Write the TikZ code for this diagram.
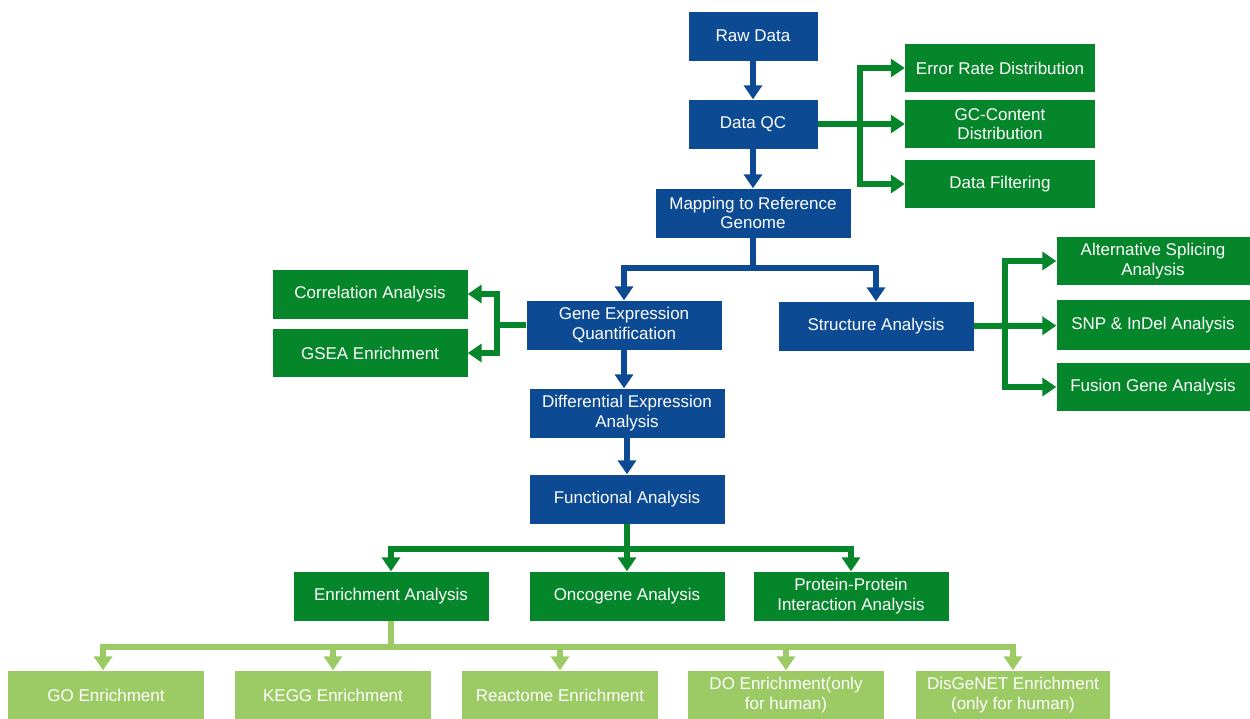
\documentclass[tikz,border=0pt]{standalone}
\usepackage{fontspec}
\setmainfont{Liberation Sans}
\usetikzlibrary{positioning, arrows.meta}
\definecolor{stepblue}{HTML}{0D4A94}
\definecolor{stepgreen}{HTML}{06862A}
\definecolor{lightgreen}{HTML}{9CCB66}
\tikzset{>={Triangle[width=18pt,length=14pt]}, % big solid heads
bluebox/.style={fill=stepblue, text=white, minimum width=195pt, minimum height=49pt, align=center, font=\fontsize{17}{19.5}\selectfont, inner sep=0pt},
greenbox/.style={bluebox, fill=stepgreen},
lightbox/.style={greenbox, fill=lightgreen, minimum width=196pt},
bluearrow/.style={->, draw=stepblue, line width=6pt},
greenarrow/.style={->, draw=stepgreen, line width=6pt},
lightarrow/.style={->, draw=lightgreen, line width=6pt},
}
\begin{document}
\begin{tikzpicture}[x=1pt, y=-1pt]
  \useasboundingbox (0,0) rectangle (1250,718);

  % main column
  \node[bluebox, minimum width=129pt] (raw) at (753,36) {Raw Data};
  \node[bluebox, minimum width=129pt, below of=raw, node distance=88pt] (qc) {Data QC};
  \node[bluebox, below of=qc, node distance=89pt] (map) {Mapping to Reference\\Genome};
  \node[bluebox] (gene) at (624,325) {Gene Expression\\Quantification};
  \node[bluebox] (struct) at (876,326) {Structure Analysis};
  \node[bluebox] (diff) at (627,413) {Differential Expression\\Analysis};
  \node[bluebox, below of=diff, node distance=86pt] (func) {Functional Analysis};

  % QC outputs
  \node[greenbox, minimum width=190pt, minimum height=48pt] (err) at (1000,68) {Error Rate Distribution};
  \node[greenbox, minimum width=190pt, minimum height=48pt] (gc) at (1000,124) {GC-Content\\Distribution};
  \node[greenbox, minimum width=190pt, minimum height=48pt] (filt) at (1000,184) {Data Filtering};

  % expression outputs
  \node[greenbox] (corr) at (370,294) {Correlation Analysis};
  \node[greenbox, minimum height=48pt] (gsea) at (370,353) {GSEA Enrichment};

  % structure outputs
  \node[greenbox, minimum width=193pt, minimum height=48pt] (alt) at (1153,261) {Alternative Splicing\\Analysis};
  \node[greenbox, minimum width=193pt, minimum height=50pt] (snp) at (1153,325) {SNP \& InDel Analysis};
  \node[greenbox, minimum width=193pt, minimum height=48pt] (fus) at (1153,387) {Fusion Gene Analysis};

  % functional outputs
  \node[greenbox] (enr) at (391,596) {Enrichment Analysis};
  \node[greenbox] (onco) at (627,596) {Oncogene Analysis};
  \node[greenbox] (ppi) at (851,596) {Protein-Protein\\Interaction Analysis};

  % enrichment outputs
  \node[lightbox] (go) at (106,695) {GO Enrichment};
  \node[lightbox] (kegg) at (333,695) {KEGG Enrichment};
  \node[lightbox] (react) at (560,695) {Reactome Enrichment};
  \node[lightbox] (do) at (786,695) {DO Enrichment(only\\for human)};
  \node[lightbox, minimum width=194pt] (dis) at (1013,695) {DisGeNET Enrichment\\(only for human)};

  \coordinate (qcfork) at (860,124);
  \coordinate (genefork) at (497,325);
  \coordinate (structfork) at (1005,326);

  \draw[bluearrow] (raw) -- (qc);
  \draw[bluearrow] (qc) -- (map);
  \draw[bluearrow] (map.south) -- ++(0,30) -| (gene);
  \draw[bluearrow] (map.south) -- ++(0,30) -| (struct);
  \draw[bluearrow] (gene) -- (diff.north -| gene);
  \draw[bluearrow] (diff) -- (func);

  \draw[greenarrow] (qc.east) -- (qcfork) |- (err);
  \draw[greenarrow] (qcfork) -- (gc);
  \draw[greenarrow] (qcfork) |- (filt);

  \draw[greenarrow] (gene.west) -- (genefork) |- (corr);
  \draw[greenarrow] (genefork) |- (gsea);

  \draw[greenarrow] (struct.east) -- (structfork) |- (alt);
  \draw[greenarrow] (structfork) -- (snp);
  \draw[greenarrow] (structfork) |- (fus);

  \draw[greenarrow] (func.south) -- ++(0,25) -| (enr);
  \draw[greenarrow] (func) -- (onco);
  \draw[greenarrow] (func.south) -- ++(0,25) -| (ppi);

  \draw[lightarrow] (enr.south) -- ++(0,26) -| ([xshift=-3pt]go.north);
  \draw[lightarrow] (enr.south) -- ++(0,26) -| (kegg);
  \draw[lightarrow] (enr.south) -- ++(0,26) -| (react);
  \draw[lightarrow] (enr.south) -- ++(0,26) -| (do);
  \draw[lightarrow] (enr.south) -- ++(0,26) -| (dis);
\end{tikzpicture}
\end{document}
